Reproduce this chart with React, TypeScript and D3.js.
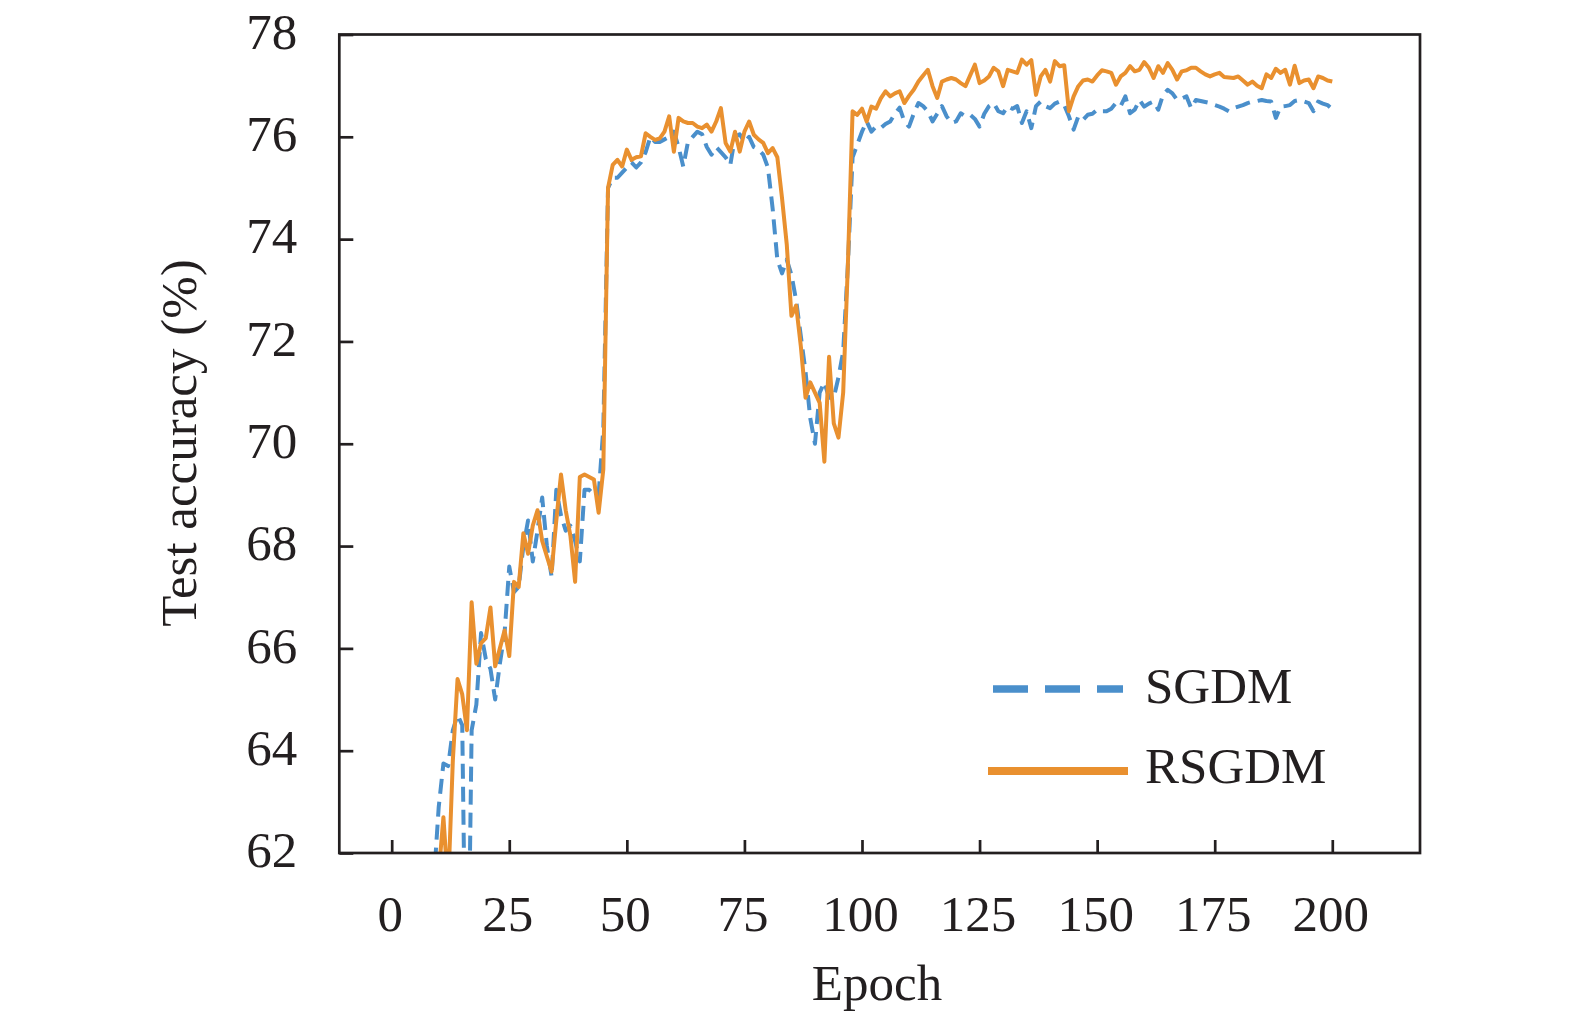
import React, { useRef, useEffect } from 'react'
import * as d3 from 'd3'

// Epochs 1..200
const epochs: number[] = d3.range(1, 201)

// SGDM test accuracy (%) per epoch
const sgdm: number[] = [
  38.0, 45.0, 50.0, 53.0, 55.5, 57.0, 58.5, 60.2, 61.5, 62.9,
  63.75, 63.7, 64.4, 64.7, 64.5, 57.5, 64.4, 64.9, 66.3, 65.8,
  65.6, 65.0, 65.7, 66.3, 67.6, 67.1, 67.2, 68.0, 68.5, 67.7,
  68.3, 68.95, 68.0, 67.4, 69.1, 68.6, 68.3, 68.4, 68.1, 67.7,
  69.1, 69.1, 69.0, 69.0, 70.3, 75.0, 75.2, 75.2, 75.3, 75.4,
  75.5, 75.4, 75.5, 75.7, 76.0, 75.9, 75.9, 75.95, 76.0, 76.1,
  75.8, 75.42, 75.9, 76.0, 76.1, 76.05, 75.8, 75.65, 75.8, 75.7,
  75.6, 75.45, 76.0, 76.05, 75.9, 76.0, 75.8, 75.75, 75.65, 75.4,
  74.6, 73.6, 73.33, 73.6, 73.3, 72.8, 72.1, 71.4, 70.5, 70.0,
  71.0, 71.2, 70.9, 70.9, 71.3, 71.8, 73.5, 75.6, 75.85, 76.1,
  76.3, 76.1, 76.2, 76.17, 76.25, 76.3, 76.45, 76.57, 76.3, 76.2,
  76.45, 76.66, 76.6, 76.5, 76.3, 76.45, 76.6, 76.4, 76.27, 76.3,
  76.46, 76.4, 76.43, 76.35, 76.2, 76.45, 76.6, 76.66, 76.5, 76.46,
  76.6, 76.55, 76.6, 76.27, 76.5, 76.17, 76.6, 76.69, 76.6, 76.56,
  76.65, 76.69, 76.62, 76.4, 76.14, 76.4, 76.33, 76.43, 76.45, 76.53,
  76.5, 76.5, 76.55, 76.66, 76.6, 76.79, 76.46, 76.53, 76.72, 76.59,
  76.65, 76.69, 76.53, 76.82, 76.92, 76.85, 76.72, 76.75, 76.79, 76.56,
  76.72, 76.7, 76.68, 76.66, 76.62, 76.59, 76.55, 76.5, 76.56, 76.59,
  76.62, 76.66, 76.69, 76.7, 76.72, 76.7, 76.69, 76.37, 76.59, 76.6,
  76.62, 76.7, 76.72, 76.69, 76.66, 76.5, 76.69, 76.65, 76.62, 76.54,
]

// RSGDM test accuracy (%) per epoch
const rsgdm: number[] = [
  36.0, 43.0, 48.0, 52.0, 54.5, 56.5, 58.0, 59.5, 60.8, 61.6,
  62.7, 61.3, 63.8, 65.4, 65.1, 64.4, 66.9, 65.7, 66.1, 66.2,
  66.8, 65.65, 66.0, 66.35, 65.85, 67.3, 67.2, 68.25, 67.85, 68.4,
  68.7, 68.1, 67.8, 67.5, 68.5, 69.4, 68.7, 68.2, 67.3, 69.35,
  69.4, 69.35, 69.3, 68.65, 69.5, 75.0, 75.45, 75.55, 75.42, 75.75,
  75.55, 75.6, 75.62, 76.07, 76.0, 75.94, 75.97, 76.1, 76.4, 75.71,
  76.37, 76.3, 76.27, 76.27, 76.2, 76.17, 76.24, 76.1, 76.3, 76.56,
  75.88, 75.71, 76.1, 75.71, 76.1, 76.3, 76.04, 75.95, 75.88, 75.68,
  75.78, 75.6, 74.8, 73.9, 72.5, 72.7, 71.9, 70.9, 71.2, 71.0,
  70.8, 69.65, 71.7, 70.4, 70.12, 71.0, 73.5, 76.5, 76.43, 76.55,
  76.3, 76.59, 76.55, 76.75, 76.89, 76.79, 76.85, 76.89, 76.66, 76.8,
  76.92, 77.08, 77.2, 77.31, 76.99, 76.76, 77.08, 77.12, 77.15, 77.12,
  77.05, 76.99, 77.2, 77.41, 77.05, 77.1, 77.18, 77.35, 77.28, 76.99,
  77.31, 77.28, 77.25, 77.51, 77.41, 77.5, 76.82, 77.18, 77.31, 77.08,
  77.48, 77.38, 77.4, 76.5, 76.79, 76.99, 77.1, 77.12, 77.08, 77.2,
  77.3, 77.28, 77.25, 77.02, 77.18, 77.25, 77.38, 77.28, 77.31, 77.46,
  77.35, 77.15, 77.38, 77.25, 77.44, 77.31, 77.12, 77.28, 77.3, 77.35,
  77.35, 77.28, 77.22, 77.18, 77.22, 77.25, 77.17, 77.16, 77.15, 77.18,
  77.1, 77.02, 77.08, 77.0, 76.95, 77.22, 77.15, 77.33, 77.25, 77.31,
  77.02, 77.39, 77.05, 77.1, 77.12, 76.95, 77.18, 77.15, 77.1, 77.08,
]

const xTicks: number[] = [0, 25, 50, 75, 100, 125, 150, 175, 200]
const yTicks: number[] = [62, 64, 66, 68, 70, 72, 74, 76, 78]

const seriesNames = ['SGDM', 'RSGDM']

const WIDTH = 1575
const HEIGHT = 1028
const FONT = '"Liberation Serif", "Times New Roman", serif'
const AXIS_COLOR = '#231f20'
const BLUE = '#4a8fcb'
const ORANGE = '#e9902f'

const App: React.FC = () => {
  const svgRef = useRef<SVGSVGElement>(null)

  useEffect(() => {
    if (!svgRef.current) return
    const svg = d3.select(svgRef.current)
    svg.selectAll('*').remove()

    // plot frame in page pixels
    const left = 339.3
    const right = 1420
    const top = 34.5
    const bottom = 853

    const xScale = d3.scaleLinear().domain([-11.14, 218.65]).range([left, right])
    const yScale = d3.scaleLinear().domain([62, 78]).range([bottom, top])

    svg.append('defs')
      .append('clipPath')
      .attr('id', 'plot-clip')
      .append('rect')
      .attr('x', left)
      .attr('y', top)
      .attr('width', right - left)
      .attr('height', bottom - top)

    // Lines
    const line = d3
      .line<number>()
      .x((_d, i) => xScale(epochs[i]))
      .y(d => yScale(d))

    const lines = svg.append('g').attr('clip-path', 'url(#plot-clip)')

    lines
      .append('path')
      .datum(sgdm)
      .attr('d', line)
      .attr('fill', 'none')
      .attr('stroke', BLUE)
      .attr('stroke-width', 4)
      .attr('stroke-dasharray', '15,8')
      .attr('stroke-linejoin', 'round')

    lines
      .append('path')
      .datum(rsgdm)
      .attr('d', line)
      .attr('fill', 'none')
      .attr('stroke', ORANGE)
      .attr('stroke-width', 4)
      .attr('stroke-linejoin', 'round')

    // Axes (ticks pointing inward)
    const xAxis = svg
      .append('g')
      .attr('transform', `translate(0, ${bottom})`)
      .call(d3.axisBottom(xScale).tickValues(xTicks).tickSize(-13).tickSizeOuter(0).tickPadding(42))

    const yAxis = svg
      .append('g')
      .attr('transform', `translate(${left}, 0)`)
      .call(d3.axisLeft(yScale).tickValues(yTicks).tickFormat(d3.format('d')).tickSize(-14).tickSizeOuter(0).tickPadding(42))

    yAxis.selectAll('.tick text').attr('dy', '0.27em')
    xAxis.selectAll('.tick text').attr('dx', -2)

    ;[xAxis, yAxis].forEach(a => {
      a.select('.domain').remove()
      a.selectAll('.tick line').attr('stroke', AXIS_COLOR).attr('stroke-width', 2.7)
      a.selectAll('.tick text')
        .style('font-family', FONT)
        .style('font-size', '51px')
        .attr('fill', AXIS_COLOR)
    })

    // Frame
    svg
      .append('rect')
      .attr('x', left)
      .attr('y', top)
      .attr('width', right - left)
      .attr('height', bottom - top)
      .attr('fill', 'none')
      .attr('stroke', AXIS_COLOR)
      .attr('stroke-width', 2.7)

    // Axis labels
    svg
      .append('text')
      .attr('x', 877)
      .attr('y', 1000)
      .attr('text-anchor', 'middle')
      .style('font-family', FONT)
      .style('font-size', '51px')
      .attr('fill', AXIS_COLOR)
      .text('Epoch')

    svg
      .append('text')
      .attr('transform', 'translate(196, 443) rotate(-90)')
      .attr('text-anchor', 'middle')
      .style('font-family', FONT)
      .style('font-size', '51px')
      .attr('fill', AXIS_COLOR)
      .text('Test accuracy (%)')

    // Legend
    const legend = svg.append('g')
    legend
      .append('line')
      .attr('x1', 993)
      .attr('x2', 1123)
      .attr('y1', 689)
      .attr('y2', 689)
      .attr('stroke', BLUE)
      .attr('stroke-width', 7.7)
      .attr('stroke-dasharray', '35,17')

    legend
      .append('line')
      .attr('x1', 988)
      .attr('x2', 1128)
      .attr('y1', 771)
      .attr('y2', 771)
      .attr('stroke', ORANGE)
      .attr('stroke-width', 8)

    seriesNames.forEach((name, i) => {
      legend
        .append('text')
        .attr('x', 1145)
        .attr('y', 703 + i * 80)
        .style('font-family', FONT)
        .style('font-size', '51px')
        .attr('fill', AXIS_COLOR)
        .text(name)
    })
  }, [])

  return (
    <div style={{ position: 'fixed', left: 0, top: 0, width: WIDTH, height: HEIGHT, background: '#fff' }}>
      <svg ref={svgRef} width={WIDTH} height={HEIGHT} style={{ display: 'block' }} />
    </div>
  )
}

export default App
